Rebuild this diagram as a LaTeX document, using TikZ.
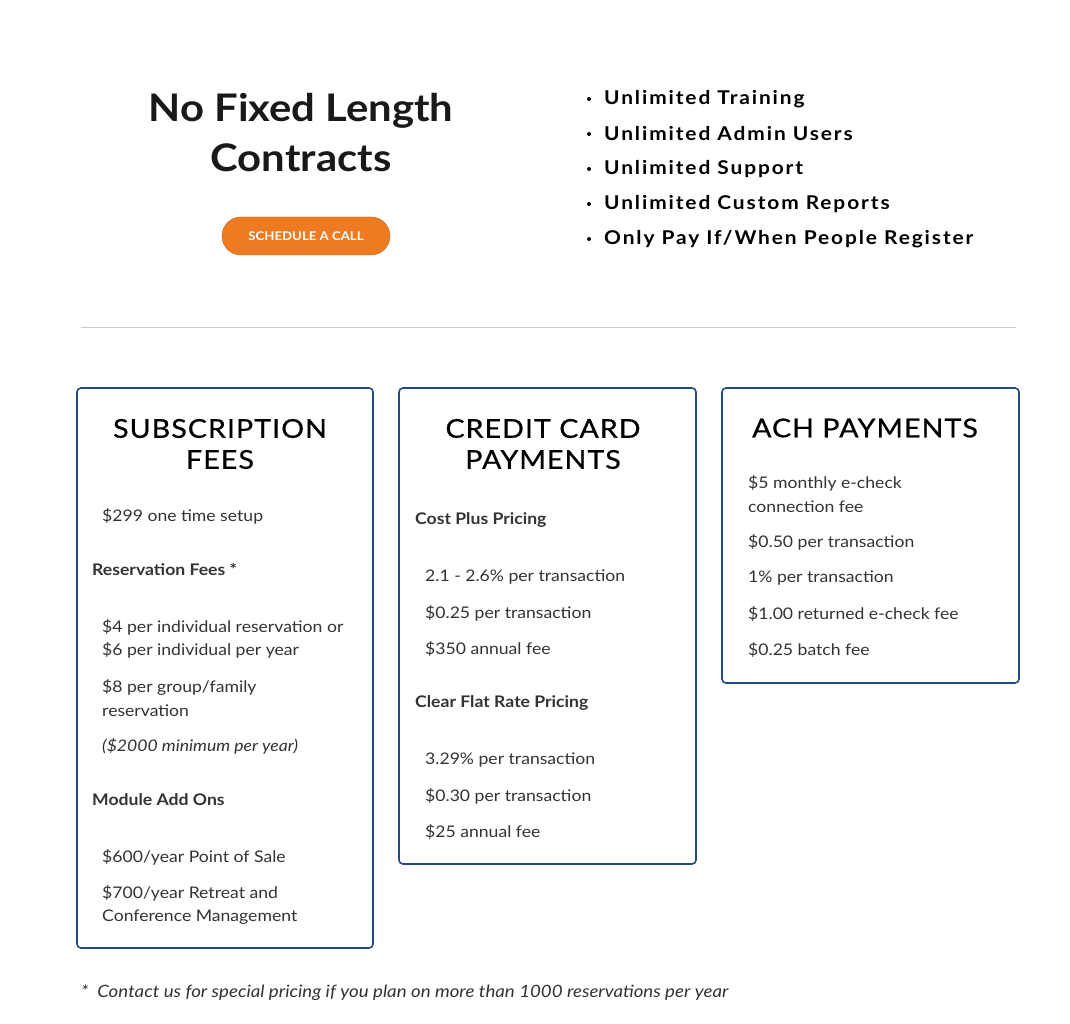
\documentclass[tikz,border=0pt]{standalone}
\usepackage{fontspec}
\setmainfont{Lato}[FakeStretch=1.1]
\usetikzlibrary{positioning}
\definecolor{boxblue}{HTML}{1F4A86}
\definecolor{btnorange}{HTML}{EE7A22}
\definecolor{txt}{HTML}{333333}
\tikzset{
  pricebox/.style={draw=boxblue, line width=1.6pt, rounded corners=4pt},
  head/.style={font=\fontsize{26}{31}\selectfont\addfontfeatures{LetterSpace=4,FakeBold=0.6}, align=center, text=black},
  item/.style={anchor=west, font=\fontsize{16}{23.5}\selectfont, text=txt, align=left, inner sep=0pt},
  sub/.style={item, font=\fontsize{16}{23.5}\selectfont\bfseries},
  perk/.style={anchor=west, font=\fontsize{19}{22}\selectfont\bfseries\addfontfeatures{LetterSpace=10}, text=black, inner sep=0pt},
  dot/.style={circle, fill=black, inner sep=0pt, minimum size=4pt}
}
\begin{document}
\begin{tikzpicture}[x=1pt, y=-1pt]
\useasboundingbox[fill=white] (0,0) rectangle (1070,1024);
% top left
\node[font=\fontsize{38}{50}\selectfont\bfseries, align=center, text=black!90] (title) at (301,133) {No Fixed Length\\Contracts};
\node[fill=btnorange, draw=btnorange!80!black, rounded corners=19pt, minimum width=168pt, minimum height=38pt,
  text=white, font=\fontsize{12}{14}\selectfont\bfseries] (call) at (306,236) {SCHEDULE A CALL};
% perks
\foreach \t [count=\i] in {Unlimited Training, Unlimited Admin Users, Unlimited Support, Unlimited Custom Reports, Only Pay If/When People Register}{
  \node[dot] (d\i) at (589,{99+35*(\i-1)}) {};
  \node[perk] (p\i) at (604,{99+35*(\i-1)}) {\t};
}
\draw[black!20, line width=1pt] (81,327) -- (1016,327);
% boxes
\draw[pricebox] (77,388) rectangle (373,948);
\draw[pricebox] (399,388) rectangle (696,864);
\draw[pricebox] (722,388) rectangle (1019,683);
\node[head] (h1) at (220,444) {SUBSCRIPTION\\FEES};
\node[head] (h2) at (543,444) {CREDIT CARD\\PAYMENTS};
\node[head] (h3) at (865,428) {ACH PAYMENTS};
% subscription
\node[item] (s1) at (102,516) {\$299 one time setup};
\node[sub] (s2) at (92,569) {Reservation Fees *};
\node[item] (s3) at (102,639) {\$4 per individual reservation or\\\$6 per individual per year};
\node[item] (s4) at (102,698) {\$8 per group/family\\reservation};
\node[item] (s5) at (102,746) {\itshape(\$2000 minimum per year)};
\node[sub] (s6) at (92,800) {Module Add Ons};
\node[item] (s7) at (102,857) {\$600/year Point of Sale};
\node[item] (s8) at (102,905) {\$700/year Retreat and\\Conference Management};
% credit card
\node[sub] (c1) at (415,520) {Cost Plus Pricing};
\node[item] (c2) at (425,577) {2.1 - 2.6\% per transaction};
\node[item] (c3) at (425,613) {\$0.25 per transaction};
\node[item] (c4) at (425,649) {\$350 annual fee};
\node[sub] (c5) at (415,703) {Clear Flat Rate Pricing};
\node[item] (c6) at (425,760) {3.29\% per transaction};
\node[item] (c7) at (425,796) {\$0.30 per transaction};
\node[item] (c8) at (425,832) {\$25 annual fee};
% ach
\node[item] (a1) at (748,494) {\$5 monthly e-check\\connection fee};
\node[item] (a2) at (748,542) {\$0.50 per transaction};
\node[item] (a3) at (748,578) {1\% per transaction};
\node[item] (a4) at (748,614) {\$1.00 returned e-check fee};
\node[item] (a5) at (748,650) {\$0.25 batch fee};
% footnote
\node[item, font=\fontsize{17}{20}\selectfont\itshape] (note) at (81,993) {*\ \ Contact us for special pricing if you plan on more than 1000 reservations per year};
\end{tikzpicture}
\end{document}
